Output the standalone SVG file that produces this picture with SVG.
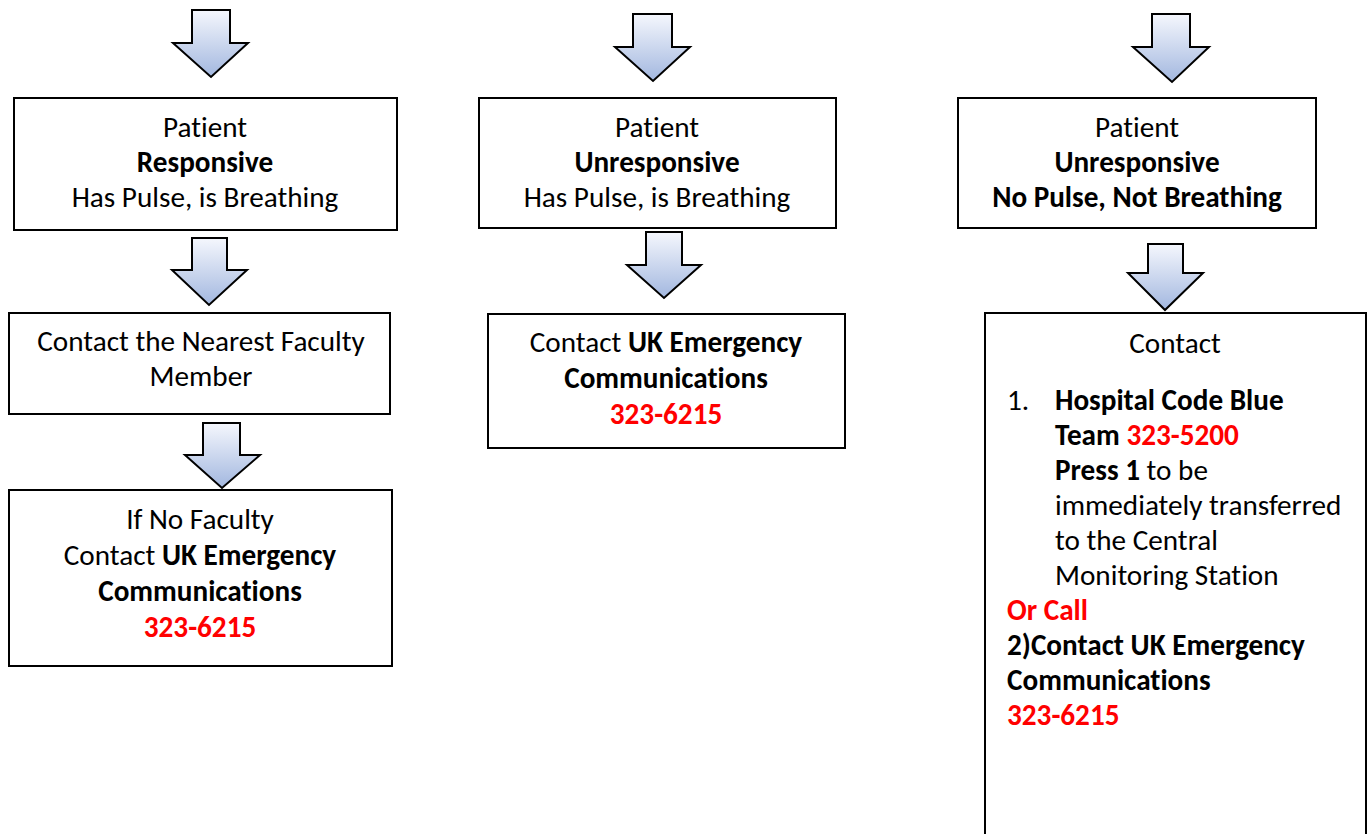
<svg xmlns="http://www.w3.org/2000/svg" width="1368" height="834" viewBox="0 0 1368 834">
<style>
.box{fill:#fff;stroke:#000;stroke-width:2}
.arr{fill:url(#g);stroke:#000;stroke-width:2;stroke-linejoin:miter}
text{font-family:Carlito,Calibri,Lato,"Open Sans",sans-serif;font-size:29.2px;fill:#000;font-variant-ligatures:none}
.c{text-anchor:middle}
.b{font-weight:bold}
.r{fill:#ff0000;font-weight:bold}
</style>
<defs>
<linearGradient id="g" x1="0" y1="0" x2="0" y2="1">
<stop offset="0" stop-color="#f5f7fd"/>
<stop offset="1" stop-color="#a2b7df"/>
</linearGradient>
</defs>
<g id="connectors">
<path class="arr" d="M192,10 H230 V43 H248 L211,77 L173,43 H192 Z"/>
<path class="arr" d="M633,14 H672 V47 H690 L653,81 L615,47 H633 Z"/>
<path class="arr" d="M1152,14 H1190 V47 H1209 L1172,82 L1133,47 H1152 Z"/>
<path class="arr" d="M192,238 H227 V270 H247 L209,305 L172,270 H192 Z"/>
<path class="arr" d="M646,232 H682 V265 H701 L664,298 L627,265 H646 Z"/>
<path class="arr" d="M1148,244 H1183 V273 H1203 L1165,310 L1128,273 H1148 Z"/>
<path class="arr" d="M203,423 H240 V455 H260 L222,488 L185,455 H203 Z"/>
</g>
<g id="n-responsive">
<rect class="box" x="14" y="98" width="383" height="132"/>
<text class="c" x="205" y="137">Patient</text>
<text class="c b" x="205" y="172">Responsive</text>
<text class="c" x="205" y="207">Has Pulse, is Breathing</text>
</g>
<g id="n-unresp-pulse">
<rect class="box" x="479" y="98" width="357" height="130"/>
<text class="c" x="657" y="137">Patient</text>
<text class="c b" x="657" y="172">Unresponsive</text>
<text class="c" x="657" y="207">Has Pulse, is Breathing</text>
</g>
<g id="n-unresp-nopulse">
<rect class="box" x="958" y="98" width="358" height="130"/>
<text class="c" x="1137" y="137">Patient</text>
<text class="c b" x="1137" y="172">Unresponsive</text>
<text class="c b" x="1137" y="207">No Pulse, Not Breathing</text>
</g>
<g id="n-faculty">
<rect class="box" x="9" y="313" width="381" height="101"/>
<text class="c" x="201" y="351">Contact the Nearest Faculty</text>
<text class="c" x="201" y="386">Member</text>
</g>
<g id="n-nofaculty">
<rect class="box" x="9" y="490" width="383" height="176"/>
<text class="c" x="200" y="529">If No Faculty</text>
<text class="c" x="200" y="565">Contact <tspan class="b">UK Emergency</tspan></text>
<text class="c b" x="200" y="601">Communications</text>
<text class="c r" x="200" y="637">323-6215</text>
</g>
<g id="n-ukec">
<rect class="box" x="488" y="314" width="357" height="134"/>
<text class="c" x="666" y="352">Contact <tspan class="b">UK Emergency</tspan></text>
<text class="c b" x="666" y="388">Communications</text>
<text class="c r" x="666" y="424">323-6215</text>
</g>
<g id="n-contact">
<rect class="box" x="985" y="313" width="381" height="530"/>
<text class="c" x="1175" y="353">Contact</text>
<text x="1007" y="410">1.</text>
<text class="b" x="1055" y="410">Hospital Code Blue</text>
<text class="b" x="1055" y="445">Team <tspan class="r">323-5200</tspan></text>
<text x="1055" y="480"><tspan class="b">Press 1</tspan> to be</text>
<text x="1055" y="515">immediately transferred</text>
<text x="1055" y="550">to the Central</text>
<text x="1055" y="585">Monitoring Station</text>
<text class="r" x="1007" y="620">Or Call</text>
<text class="b" x="1007" y="655">2)Contact UK Emergency</text>
<text class="b" x="1007" y="690">Communications</text>
<text class="r" x="1007" y="725">323-6215</text>
</g>
</svg>
